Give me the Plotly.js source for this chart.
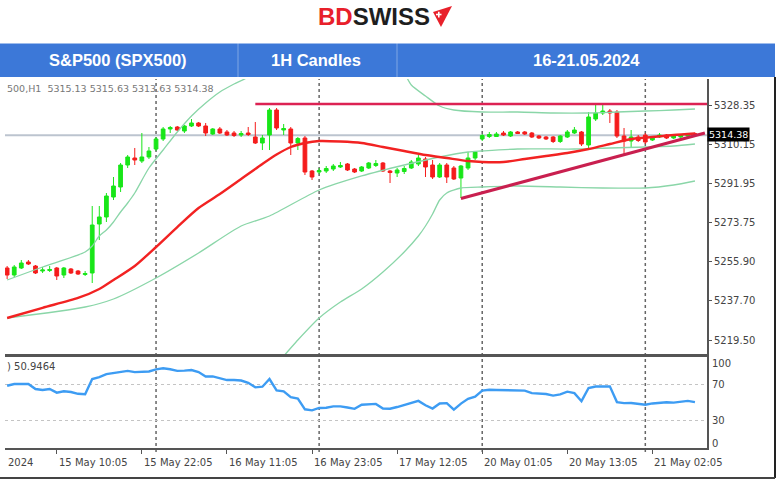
<!DOCTYPE html>
<html>
<head>
<meta charset="utf-8">
<script src="https://cdn.plot.ly/plotly-3.0.1.min.js"></script>
<style>html,body{margin:0;padding:0;background:#fff;}#chart{width:780px;height:482px;}</style>
</head>
<body>
<div id="chart"></div>
<script>
// ---------- DATA ----------
const priceOpen = [5252.85,5249.61,5252.85,5255.63,5253.78,5251.46,5251.69,5252.85,5249.61,5252.39,
5251.46,5249.84,5250.54,5273.23,5276.48,5285.74,5290.37,5300.56,5303.80,5302.41,
5304.27,5307.97,5312.61,5317.24,5318.16,5316.31,5318.63,5320.02,5318.63,5314.92,
5317.24,5315.85,5315.38,5314.46,5315.38,5313.53,5310.75,5314.46,5326.04,5316.77,
5317.24,5310.75,5313.07,5297.78,5297.32,5297.78,5298.71,5299.64,5301.03,5298.71,
5297.78,5299.17,5300.33,5301.49,5297.78,5296.86,5297.55,5299.17,5301.03,5303.34,
5300.56,5295.00,5300.56,5299.17,5294.54,5299.17,5303.80,5312.61,5313.76,5313.76,
5315.38,5313.99,5315.85,5315.85,5315.38,5313.99,5313.53,5313.53,5311.45,5313.53,
5315.38,5315.85,5309.83,5321.87,5324.65,5325.57,5325.11,5313.99,5311.68,5313.53,
5314.46,5312.14,5313.53,5314.46,5313.07,5313.53,5313.99,5315.13];
const priceHigh = [5253.78,5254.24,5256.56,5256.56,5254.24,5253.32,5253.78,5253.32,5253.32,5252.85,
5251.93,5251.46,5281.57,5281.57,5287.59,5295.00,5301.49,5305.19,5308.44,5315.38,
5308.90,5313.53,5318.16,5318.63,5318.63,5319.09,5321.87,5320.48,5320.02,5317.70,
5318.16,5316.77,5316.31,5316.31,5318.16,5320.48,5314.46,5326.96,5326.96,5319.55,
5318.16,5313.53,5313.99,5298.25,5299.17,5300.10,5301.03,5301.95,5301.49,5299.17,
5300.10,5301.95,5302.88,5301.95,5298.25,5299.17,5300.10,5302.88,5305.19,5304.27,
5302.88,5301.49,5301.49,5300.10,5300.56,5306.58,5307.05,5314.92,5315.85,5315.85,
5316.31,5316.31,5316.31,5316.31,5315.85,5314.46,5313.99,5313.99,5314.46,5316.77,
5318.16,5316.31,5325.11,5328.35,5328.35,5326.50,5326.04,5317.70,5316.77,5314.46,
5315.38,5313.99,5315.38,5314.92,5314.46,5314.92,5315.38,5315.63];
const priceLow = [5247.76,5248.68,5252.39,5254.24,5250.07,5250.54,5251.00,5247.29,5248.22,5250.07,
5249.61,5249.15,5245.90,5265.82,5274.16,5284.35,5288.06,5299.17,5300.56,5301.49,
5303.34,5307.05,5311.68,5315.38,5316.31,5315.38,5318.16,5318.16,5313.99,5314.46,
5314.92,5313.99,5313.53,5313.53,5313.99,5310.29,5307.51,5307.51,5316.77,5314.46,
5305.19,5307.51,5295.93,5293.61,5296.39,5296.86,5297.78,5299.17,5297.78,5296.86,
5297.32,5298.71,5299.64,5297.32,5292.22,5295.00,5296.39,5298.71,5300.10,5295.00,
5294.08,5294.54,5292.22,5293.61,5285.28,5298.25,5302.88,5311.68,5313.07,5313.53,
5313.99,5313.53,5314.92,5314.46,5313.07,5312.61,5312.14,5310.75,5310.75,5313.07,
5314.92,5309.36,5308.44,5320.94,5323.72,5320.02,5313.07,5305.66,5308.44,5311.22,
5310.29,5311.68,5313.07,5312.61,5312.61,5313.07,5313.53,5313.63];
const priceClose = [5249.61,5253.32,5255.17,5254.71,5250.54,5251.93,5252.16,5249.15,5252.85,5250.54,
5250.07,5250.30,5272.77,5276.48,5286.20,5290.83,5300.56,5304.27,5302.88,5304.27,
5307.05,5312.61,5317.24,5317.93,5316.77,5318.63,5320.02,5318.63,5315.38,5317.24,
5315.38,5314.46,5314.23,5315.15,5314.69,5310.75,5313.07,5326.04,5317.70,5317.47,
5310.75,5312.84,5297.32,5295.00,5298.01,5298.94,5300.10,5300.33,5298.25,5297.32,
5299.64,5301.49,5301.26,5297.78,5297.09,5298.25,5298.94,5301.95,5303.80,5299.64,
5295.00,5300.56,5295.00,5294.08,5300.10,5303.80,5306.58,5314.23,5314.69,5314.92,
5314.46,5315.85,5315.15,5314.92,5313.53,5313.07,5312.61,5311.45,5313.99,5315.85,
5316.77,5310.29,5322.80,5324.65,5325.57,5324.65,5313.99,5311.68,5313.53,5311.91,
5311.22,5313.07,5314.46,5313.07,5313.99,5314.46,5314.69,5314.38];

// moving average (red), read at sample bars
const maIdx = [0,5,10,13,15,18,21,24,27,30,33,36,38,40,42,44,47,50,53,56,59,62,65,67,70,73,76,79,82,85,88,91,94,97];
const maVal = [5229.69,5234.42,5238.96,5243.13,5247.29,5253.78,5262.58,5271.84,5280.64,5287.13,5294.08,5301.03,5305.40,5308.90,5310.75,5311.68,5311.45,5310.75,5308.90,5307.05,5305.19,5303.80,5302.41,5301.95,5301.95,5303.34,5304.73,5306.12,5307.97,5310.29,5312.61,5313.53,5314.46,5315.15];

// Bollinger bands (green), read at sample bars
const bbUpIdx = [0,5,11,12,13,14,15,16,17,18,20,22,24,26,28,30,32,34,37,41,45,50,54,56,57,59,61,63,67,72,77,82,86,90,94,97];
const bbUpVal = [5247.29,5253.32,5260.26,5263.04,5267.67,5270.45,5274.16,5278.79,5282.96,5287.59,5299.17,5307.51,5315.85,5323.26,5329.28,5334.38,5338.08,5341.32,5349.0,5353.0,5355.0,5354.0,5349.0,5343.0,5337.62,5332.52,5327.89,5326.04,5325.11,5325.11,5324.65,5324.65,5325.11,5325.57,5326.04,5326.50];
const bbMidIdx = [0,11,15,21,27,33,37,44,50,56,61,65,67,72,80,85,90,94,97];
const bbMidVal = [5229.69,5234.79,5238.49,5248.22,5259.80,5272.30,5276.94,5288.98,5295.47,5300.56,5304.27,5306.58,5307.05,5307.97,5307.97,5308.44,5308.90,5309.36,5310.29];
const bbLowIdx = [0,10,20,30,36,38,39,41,44,47,50,53,56,58,59,60,61,62,64,67,72,78,84,90,94,97];
const bbLowVal = [5208,5206,5203,5200,5204,5209,5212.09,5219.5,5229.69,5237.1,5243.13,5251.0,5260.26,5267.68,5272.30,5277.86,5284.35,5287.59,5289.91,5290.37,5290.83,5290.37,5289.91,5289.91,5291.30,5293.15];

// RSI per bar
const rsiVal = [69.2,71.1,71.1,71.1,65.5,64.5,65.6,61.5,63.0,62.2,
60.2,59.7,76.6,78.8,82.0,83.5,85.0,85.7,84.3,84.5,
85.0,87.4,88.5,87.5,85.7,85.9,86.6,84.4,79.5,79.5,
77.5,75.5,75.5,75.0,72.5,67.4,68.1,76.6,64.0,63.0,
56.4,55.0,43.0,41.8,44.5,44.7,46.2,46.2,45.0,43.5,
48.0,48.8,49.0,43.8,43.6,45.5,47.5,50.0,52.3,47.5,
43.8,49.5,49.8,42.5,49.3,54.6,57.1,63.7,64.7,64.5,
64.5,64.5,63.7,63.7,61.0,60.8,60.0,58.2,59.5,62.6,
61.0,52.0,66.7,68.3,68.5,68.5,51.0,49.8,50.0,48.6,
48.0,49.5,50.4,50.9,50.4,51.2,52.3,50.95];
const rsiLabel = ") 50.9464";

// drawn trend lines
const resistIdx = [35, 98.7];
const resistVal = [5328.82, 5328.82];
const supportIdx = [64, 98.4];
const supportVal = [5285.04, 5315.38];

// axes labels
const priceTicks = [5219.50,5237.70,5255.90,5273.75,5291.95,5310.15,5328.35];
const priceTickText = ["5219.50","5237.70","5255.90","5273.75","5291.95","5310.15","5328.35"];
const timeTickIdx = [7,19,31,43,55,67,79,91];
const timeTickText = ["15 May 10:05","15 May 22:05","16 May 11:05","16 May 23:05","17 May 12:05","20 May 01:05","20 May 13:05","21 May 02:05"];
const firstLabel = "2024";
const daySepIdx = [21,44,67,90];
const rsiLevels = [100,70,30,0];
const rsiLevelText = ["100","70","30","0"];
const infoLine = "500,H1  5315.13 5315.63 5313.63 5314.38";
const headerCells = ["S&P500 (SPX500)","1H Candles","16-21.05.2024"];

// ---------- GEOMETRY ----------
const W = 780, H = 482;
const px = x => x / W;
const py = y => 1 - y / H;
const N = priceClose.length;
const barIdx = [];
for (let i = 0; i < N; i++) barIdx.push(i);
const lastClose = priceClose[N - 1];

const xDomain = [px(5), px(707)];
const xRange = [-0.3, 98.7];

const traces = [
  {
    type: 'candlestick', x: barIdx, open: priceOpen, high: priceHigh, low: priceLow, close: priceClose,
    xaxis: 'x', yaxis: 'y', whiskerwidth: 0,
    increasing: {line: {color: '#19e619', width: 1}, fillcolor: '#19e619'},
    decreasing: {line: {color: '#f51c1c', width: 1}, fillcolor: '#f51c1c'},
    hoverinfo: 'skip'
  },
  {type: 'scatter', mode: 'lines', x: bbUpIdx, y: bbUpVal, xaxis: 'x', yaxis: 'y',
   line: {color: '#8ad6a8', width: 1.3, shape: 'spline', smoothing: 0.7}},
  {type: 'scatter', mode: 'lines', x: bbMidIdx, y: bbMidVal, xaxis: 'x', yaxis: 'y',
   line: {color: '#8ad6a8', width: 1.3, shape: 'spline', smoothing: 0.7}},
  {type: 'scatter', mode: 'lines', x: bbLowIdx, y: bbLowVal, xaxis: 'x', yaxis: 'y',
   line: {color: '#8ad6a8', width: 1.3, shape: 'spline', smoothing: 0.6}},
  {type: 'scatter', mode: 'lines', x: maIdx, y: maVal, xaxis: 'x', yaxis: 'y',
   line: {color: '#f22222', width: 2.4, shape: 'spline', smoothing: 0.7}},
  {type: 'scatter', mode: 'lines', x: resistIdx, y: resistVal, xaxis: 'x', yaxis: 'y',
   line: {color: '#dc2253', width: 2.6}},
  {type: 'scatter', mode: 'lines', x: supportIdx, y: supportVal, xaxis: 'x', yaxis: 'y',
   line: {color: '#c91f4f', width: 3}},
  {type: 'scatter', mode: 'lines', x: barIdx, y: rsiVal, xaxis: 'x2', yaxis: 'y2',
   line: {color: '#3d9cf3', width: 2.4}}
];

const shapes = [];
daySepIdx.forEach(i => shapes.push({type: 'line', xref: 'x', yref: 'paper', x0: i, x1: i,
  y0: py(452), y1: py(79), line: {color: '#666', width: 1.5, dash: 'dot'}, layer: 'below'}));
shapes.push({type: 'line', xref: 'paper', yref: 'y', x0: xDomain[0], x1: xDomain[1], y0: lastClose, y1: lastClose,
  line: {color: '#bcc4cf', width: 2}, layer: 'below'});
shapes.push({type: 'rect', xref: 'paper', yref: 'paper', x0: 0, x1: px(775), y0: py(77), y1: py(43),
  fillcolor: '#3c78d8', line: {width: 0}});
[238, 397].forEach(x => shapes.push({type: 'line', xref: 'paper', yref: 'paper', x0: px(x), x1: px(x), y0: py(77), y1: py(43),
  line: {color: 'rgba(255,255,255,0.35)', width: 1}}));
shapes.push({type: 'line', xref: 'paper', yref: 'paper', x0: 0, x1: px(775), y0: py(43.5), y1: py(43.5),
  line: {color: 'rgba(255,255,255,0.5)', width: 1}});
shapes.push({type: 'line', xref: 'paper', yref: 'paper', x0: px(775), x1: px(775), y0: py(478), y1: py(77),
  line: {color: '#222', width: 2}});
shapes.push({type: 'line', xref: 'paper', yref: 'paper', x0: 0, x1: px(775), y0: py(478), y1: py(478),
  line: {color: '#444', width: 2}});
const tri = [[433, 12], [452, 6], [441, 27]];
shapes.push({type: 'path', xref: 'paper', yref: 'paper',
  path: 'M' + tri.map(p => px(p[0]) + ',' + py(p[1])).join(' L') + ' Z',
  fillcolor: '#e8202a', line: {width: 0}});
shapes.push({type: 'line', xref: 'paper', yref: 'paper', x0: px(436), x1: px(441.5), y0: py(14.5), y1: py(14.5), line: {color: '#fff', width: 1.6}});
shapes.push({type: 'line', xref: 'paper', yref: 'paper', x0: px(438.8), x1: px(438.8), y0: py(11.8), y1: py(17.4), line: {color: '#fff', width: 1.6}});

const tickFont = {family: 'DejaVu Sans', size: 10, color: '#444'};
const annotations = [];
annotations.push({xref: 'paper', yref: 'paper', x: px(374), y: py(17), xanchor: 'center', yanchor: 'middle', showarrow: false,
  text: '<b><span style="color:#e8202a">BD</span>SWISS</b>', font: {family: 'Liberation Sans', size: 24, color: '#1e1e1e'}});
const headerX = [118, 316, 586];
headerCells.forEach((t, k) => annotations.push({xref: 'paper', yref: 'paper', x: px(headerX[k]), y: py(60),
  xanchor: 'center', yanchor: 'middle', showarrow: false, text: '<b>' + t + '</b>',
  font: {family: 'Liberation Sans', size: 16.5, color: '#ffffff'}}));
annotations.push({xref: 'paper', yref: 'paper', x: px(5), y: py(88), xanchor: 'left', yanchor: 'middle', showarrow: false,
  text: infoLine, font: {family: 'DejaVu Sans', size: 9.5, color: '#777'}});
annotations.push({xref: 'paper', yref: 'y', x: xDomain[1], y: lastClose, yshift: 1, xanchor: 'left', yanchor: 'middle', showarrow: false,
  text: lastClose.toFixed(2), bgcolor: '#000', borderpad: 1, font: {family: 'DejaVu Sans', size: 9.5, color: '#fff'}});
annotations.push({xref: 'paper', yref: 'paper', x: px(5), y: py(366), xanchor: 'left', yanchor: 'middle', showarrow: false,
  text: rsiLabel, font: tickFont});
const rsiShift = [-6, 0, 0, 5];
rsiLevels.forEach((v, k) => annotations.push({xref: 'paper', yref: 'y2', x: px(710), y: v, yshift: rsiShift[k],
  xanchor: 'left', yanchor: 'middle', showarrow: false, text: rsiLevelText[k], font: tickFont}));
timeTickIdx.forEach((i, k) => annotations.push({xref: 'x2', yref: 'paper', x: i, y: py(462), xanchor: 'left', yanchor: 'middle',
  showarrow: false, text: timeTickText[k], font: tickFont}));
annotations.push({xref: 'paper', yref: 'paper', x: px(6), y: py(462), xanchor: 'left', yanchor: 'middle',
  showarrow: false, text: firstLabel, font: tickFont});

const layout = {
  width: W, height: H, margin: {l: 0, r: 0, t: 0, b: 0},
  paper_bgcolor: '#fff', plot_bgcolor: '#fff', showlegend: false, hovermode: false,
  boxgap: 0.3, boxgroupgap: 0.25,
  xaxis: {domain: xDomain, range: xRange, anchor: 'y', showticklabels: false, ticks: '', showgrid: false,
    zeroline: false, showline: true, linecolor: '#555', linewidth: 3, rangeslider: {visible: false}},
  yaxis: {domain: [py(354), py(79)], range: [5376.99 - 0.4632 * 354, 5376.99 - 0.4632 * 79], side: 'right', anchor: 'x',
    tickvals: priceTicks, ticktext: priceTickText, ticks: 'outside', ticklen: 3, tickcolor: '#555',
    showgrid: false, zeroline: false, showline: true, linecolor: '#555', linewidth: 2, tickfont: tickFont},
  xaxis2: {domain: xDomain, range: xRange, anchor: 'y2', tickvals: timeTickIdx, ticks: 'outside', ticklen: 4,
    tickcolor: '#555', showticklabels: false, showgrid: false, zeroline: false, showline: true,
    linecolor: '#555', linewidth: 2},
  yaxis2: {domain: [py(448), py(356)], range: [0, 102.2], side: 'right', anchor: 'x2', tickvals: [30, 70],
    showticklabels: false, ticks: '', showgrid: true, gridcolor: '#c4c4c4', griddash: 'dot', gridwidth: 1,
    zeroline: false, showline: true, linecolor: '#555', linewidth: 2},
  shapes: shapes, annotations: annotations
};

Plotly.newPlot('chart', traces, layout, {staticPlot: true, displayModeBar: false});
</script>
</body>
</html>
